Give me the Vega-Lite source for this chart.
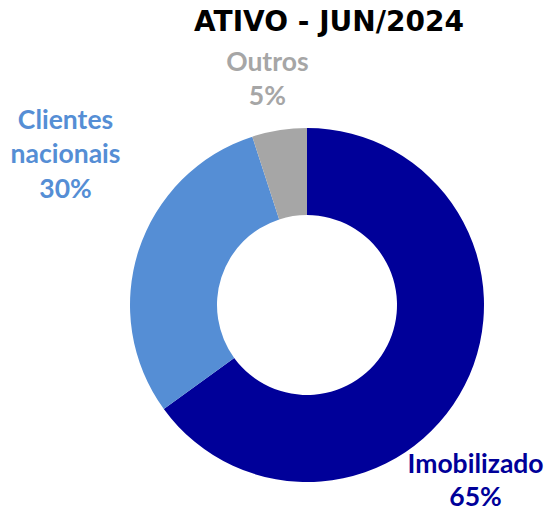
{
  "$schema": "https://vega.github.io/schema/vega-lite/v6.json",
  "autosize": "none",
  "width": 488,
  "height": 422,
  "padding": {"left": 63, "top": 94, "right": 0, "bottom": 0},
  "background": "white",
  "config": {"view": {"stroke": null}},
  "title": {
    "text": "ATIVO - JUN/2024",
    "font": "DejaVu Sans",
    "fontSize": 28,
    "fontWeight": "bold",
    "color": "#000000",
    "anchor": "middle",
    "frame": "group",
    "dx": 22,
    "dy": -9
  },
  "data": {
    "values": [
      {"category": "Imobilizado", "label": "Imobilizado\n65%", "value": 65},
      {"category": "Clientes nacionais", "label": "Clientes\nnacionais\n30%", "value": 30},
      {"category": "Outros", "label": "Outros\n5%", "value": 5}
    ]
  },
  "transform": [
    {"calculate": "indexof(['Imobilizado','Clientes nacionais','Outros'], datum.category)", "as": "ord"},
    {"stack": "value", "groupby": [], "sort": [{"field": "ord", "order": "ascending"}], "as": ["t0", "t1"]},
    {"calculate": "(datum.t0 + datum.t1) / 2", "as": "mid"}
  ],
  "layer": [
    {
      "mark": {"type": "arc", "outerRadius": 177, "innerRadius": 90, "stroke": null},
      "encoding": {
        "theta": {"field": "t0", "type": "quantitative", "stack": null, "scale": {"domain": [0, 100], "range": [0, 6.283185307]}},
        "theta2": {"field": "t1"},
        "color": {
          "field": "category",
          "type": "nominal",
          "scale": {"domain": ["Imobilizado", "Clientes nacionais", "Outros"], "range": ["#000099", "#558ED5", "#A6A6A6"]},
          "legend": null
        }
      }
    },
    {
      "transform": [{"filter": "datum.category == 'Imobilizado'"}],
      "mark": {"type": "text", "radius": 215, "dx": -23, "dy": 62, "font": "Lato", "fontSize": 26.5, "fontWeight": "bold", "lineBreak": "\n", "lineHeight": 33, "align": "center", "baseline": "middle", "color": "#000099"},
      "encoding": {
        "theta": {"field": "mid", "type": "quantitative", "stack": null, "scale": {"domain": [0, 100], "range": [0, 6.283185307]}},
        "text": {"field": "label"}
      }
    },
    {
      "transform": [{"filter": "datum.category == 'Clientes nacionais'"}],
      "mark": {"type": "text", "radius": 215, "dx": -37, "dy": -118, "font": "Lato", "fontSize": 26.5, "fontWeight": "bold", "lineBreak": "\n", "lineHeight": 34.5, "align": "center", "baseline": "middle", "color": "#558ED5"},
      "encoding": {
        "theta": {"field": "mid", "type": "quantitative", "stack": null, "scale": {"domain": [0, 100], "range": [0, 6.283185307]}},
        "text": {"field": "label"}
      }
    },
    {
      "transform": [{"filter": "datum.category == 'Outros'"}],
      "mark": {"type": "text", "radius": 215, "dx": -6, "dy": -30, "font": "Lato", "fontSize": 26.5, "fontWeight": "bold", "lineBreak": "\n", "lineHeight": 34, "align": "center", "baseline": "middle", "color": "#A6A6A6"},
      "encoding": {
        "theta": {"field": "mid", "type": "quantitative", "stack": null, "scale": {"domain": [0, 100], "range": [0, 6.283185307]}},
        "text": {"field": "label"}
      }
    }
  ]
}
